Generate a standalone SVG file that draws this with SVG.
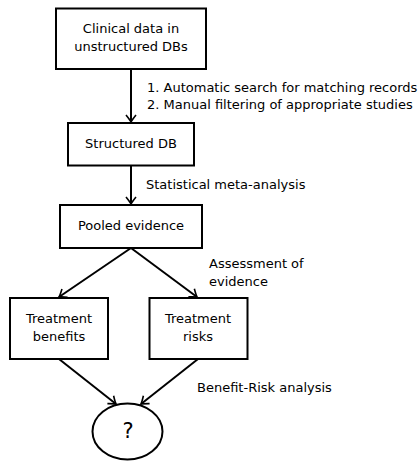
<svg xmlns="http://www.w3.org/2000/svg" width="418" height="461" viewBox="0 0 418 461">
<defs>
<style>
.box{fill:#fff;stroke:#000;stroke-width:2}
.t{font-family:"DejaVu Sans",sans-serif;font-size:13px;fill:#000}
.c{text-anchor:middle}
.e{stroke:#000;stroke-width:2;fill:none}
</style>
<marker id="ah" markerWidth="12" markerHeight="12" viewBox="-10 -6 12 12" refX="0" refY="0" orient="auto" markerUnits="userSpaceOnUse">
<path d="M-7,-5 Q-2,-1 0,0 Q-2,1 -7,5" fill="none" stroke="#000" stroke-width="1.6"/>
</marker>
</defs>
<rect width="418" height="461" fill="#fff"/>
<g id="edges">
<line class="e" x1="131" y1="69" x2="131" y2="122" marker-end="url(#ah)"/>
<line class="e" x1="131" y1="166" x2="131" y2="204" marker-end="url(#ah)"/>
<line class="e" x1="131" y1="248" x2="59" y2="297" marker-end="url(#ah)"/>
<line class="e" x1="131" y1="248" x2="197" y2="297" marker-end="url(#ah)"/>
<line class="e" x1="59" y1="359" x2="116" y2="404" marker-end="url(#ah)"/>
<line class="e" x1="198" y1="359" x2="141" y2="404" marker-end="url(#ah)"/>
<text class="t" x="147" y="92">1. Automatic search for matching records</text>
<text class="t" x="147" y="109">2. Manual filtering of appropriate studies</text>
<text class="t" x="146" y="189">Statistical meta-analysis</text>
<text class="t" x="209" y="268">Assessment of</text>
<text class="t" x="209" y="286">evidence</text>
<text class="t" x="197" y="392">Benefit-Risk analysis</text>
</g>
<g id="n1">
<rect class="box" x="56" y="8.5" width="150" height="60.5"/>
<text class="t c" x="131" y="33">Clinical data in</text>
<text class="t c" x="131" y="51">unstructured DBs</text>
</g>
<g id="n2">
<rect class="box" x="68" y="123" width="126" height="42.5"/>
<text class="t c" x="131" y="148">Structured DB</text>
</g>
<g id="n3">
<rect class="box" x="60" y="205" width="142" height="43"/>
<text class="t c" x="131" y="230">Pooled evidence</text>
</g>
<g id="n4">
<rect class="box" x="10" y="298" width="98" height="61"/>
<text class="t c" x="59" y="323">Treatment</text>
<text class="t c" x="59" y="341">benefits</text>
</g>
<g id="n5">
<rect class="box" x="149.5" y="298" width="98" height="61"/>
<text class="t c" x="198" y="323">Treatment</text>
<text class="t c" x="198" y="341">risks</text>
</g>
<g id="n6">
<ellipse class="box" cx="127.5" cy="431.5" rx="35" ry="28"/>
<text class="t c" x="128" y="438" style="font-size:21px">?</text>
</g>
</svg>
